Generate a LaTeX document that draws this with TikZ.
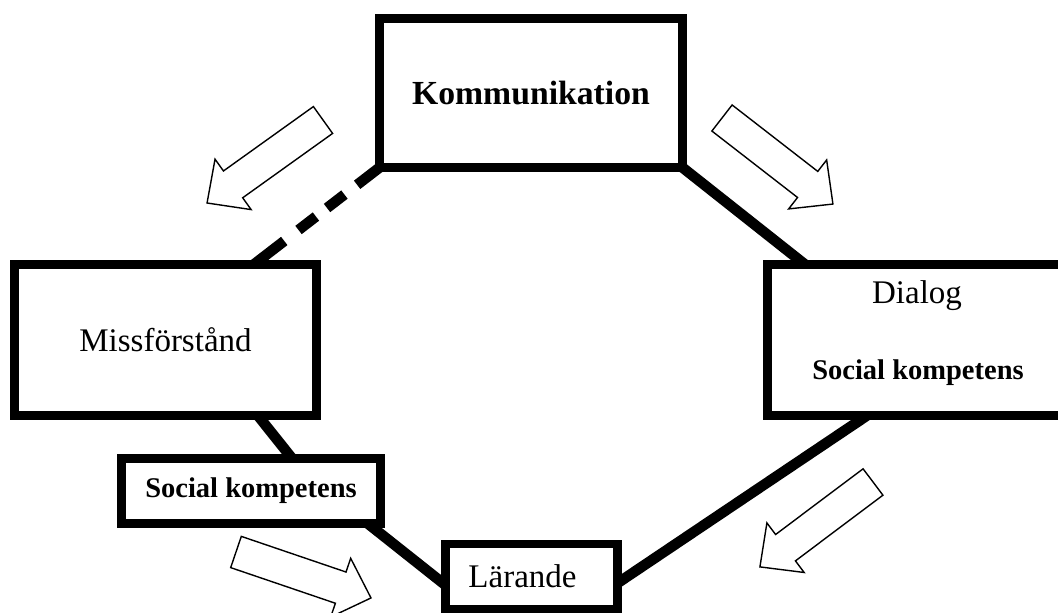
\documentclass[tikz,border=0pt]{standalone}
\usepackage{fontspec}
\setmainfont{Liberation Serif}
\begin{document}
\begin{tikzpicture}[x=1pt,y=-1pt,
  box/.style={draw=black, line width=8.5pt, fill=white, inner sep=0pt, outer sep=0pt, align=center},
  link/.style={draw=black, line width=10.5pt},
  dlink/.style={link, dash pattern=on 28pt off 16pt on 22pt off 14pt on 22pt off 18pt on 80pt},
  hollow/.style={draw=black, line width=1.4pt, fill=white, line join=miter},
  regtxt/.style={font=\fontsize{33}{38}\selectfont},
  boldtxt/.style={font=\fontsize{28.5}{32}\selectfont\bfseries}
]
\useasboundingbox (0,0) rectangle (1058,613);
\clip (0,0) rectangle (1058,613);

% node geometry (boxes drawn later, on top of the links)
\path (531,93) node[minimum width=303pt, minimum height=149pt] (komm) {}
      (165.5,340) node[minimum width=302pt, minimum height=151pt] (miss) {}
      (921.25,340) node[minimum width=307.5pt, minimum height=151pt] (dialog) {}
      (251,491) node[minimum width=259pt, minimum height=65pt] (sk) {}
      (531.5,576.5) node[minimum width=172pt, minimum height=65pt] (lar) {};

% connectors
\draw[dlink] (komm.south west) -- ([xshift=88.5pt]miss.north);
\draw[link] (komm.south east) -- ([xshift=37.5pt]dialog.north west);
\draw[link] ([xshift=92.5pt]miss.south) -- ([xshift=41pt]sk.north);
\draw[link] ([xshift=117pt]sk.south) -- ([yshift=-8.5pt]lar.west);
\draw[link] ([yshift=-6.5pt]lar.east) -- ([xshift=99.5pt]dialog.south west);

% boxes
\node[box, regtxt, minimum width=303pt, minimum height=149pt] (kommbox) at (komm) {\fontsize{33.7}{38}\selectfont\bfseries Kommunikation};
\node[box, regtxt, minimum width=302pt, minimum height=151pt] (missbox) at (miss) {Missförstånd};
\node[box, minimum width=307.5pt, minimum height=151pt] (dialogbox) at (dialog) {};
\node[regtxt] (dialogt) at (917,296) {Dialog};
\node[boldtxt] (dialogsk) at (918,373) {Social kompetens};
\node[box, boldtxt, minimum width=259pt, minimum height=65pt] (skbox) at (sk) {Social kompetens};
\node[box, regtxt, minimum width=172pt, minimum height=65pt] (larbox) at (lar) {\hspace*{-18pt}Lärande};

% hollow block arrows
\newcommand{\blockarrow}[3]{%
  \begin{scope}[shift={#1}, rotate=#2]
    \draw[hollow] (0,-16.5) -- (#3-32,-16.5) -- (#3-32,-31) -- (#3,0)
      -- (#3-32,31) -- (#3-32,16.5) -- (0,16.5) -- cycle;
  \end{scope}}
\blockarrow{(323,120)}{215.6}{142.6}
\blockarrow{(722,118)}{-37.8}{140.4}
\blockarrow{(873,482)}{216.9}{141.4}
\blockarrow{(236,552)}{-18.8}{142.6}
\end{tikzpicture}
\end{document}
